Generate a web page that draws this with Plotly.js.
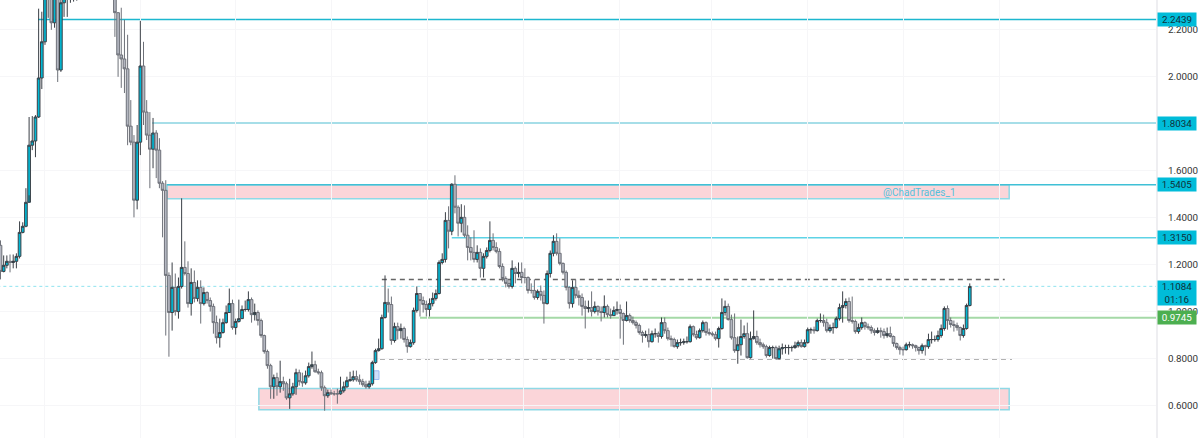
<!DOCTYPE html>
<html><head><meta charset="utf-8">
<script src="https://cdn.plot.ly/plotly-3.0.1.min.js"></script>
<style>html,body{margin:0;padding:0;background:#fff}#c{width:1200px;height:438px}</style>
</head><body><div id="c"></div>
<script>
const firstOpen = 1.283;
const closes = [
1.172,1.198,1.215,1.210,1.215,1.236,1.338,1.364,1.466,1.709,
1.727,1.829,1.995,2.149,2.349,2.413,2.230,2.349,2.029,2.315,
2.371,2.392,2.413,2.50,2.62,2.71,2.80,2.74,2.85,2.78,
2.66,2.72,2.60,2.52,2.46,2.50,2.273,2.093,2.076,2.034,
1.790,1.722,1.475,1.722,2.046,1.850,1.752,1.692,1.761,1.688,
1.547,1.517,1.155,.997,1.104,1.001,1.108,1.189,1.163,1.035,
1.125,1.057,1.104,1.035,1.082,1.048,1.023,.954,.890,.912,
.954,.997,1.035,.933,.959,.971,1.010,1.010,1.052,.988,
.997,.963,.899,.831,.771,.681,.720,.681,.703,.694,
.634,.651,.681,.741,.703,.698,.728,.767,.775,.745,
.741,.677,.643,.656,.651,.651,.651,.664,.681,.707,
.711,.724,.711,.703,.690,.681,.694,.784,.835,.843,
.976,1.040,1.031,.878,.937,.920,.929,.882,.852,.869,
1.006,1.078,1.048,1.031,1.010,1.035,1.057,1.078,1.210,1.223,
1.389,1.343,1.543,1.445,1.377,1.402,1.326,1.274,1.253,1.223,
1.253,1.185,1.236,1.261,1.304,1.274,1.257,1.193,1.142,1.121,
1.108,1.185,1.163,1.168,1.146,1.146,1.091,1.091,1.061,1.087,
1.070,1.035,1.163,1.249,1.300,1.249,1.206,1.168,1.104,1.035,
1.104,1.070,1.061,1.023,1.014,1.018,1.001,1.023,1.001,.997,
1.023,.988,.984,1.006,1.010,.993,.963,.984,.963,.954,
.942,.912,.899,.903,.873,.907,.907,.895,.954,.920,
.886,.882,.852,.869,.869,.873,.873,.937,.903,.890,
.920,.954,.912,.907,.903,.886,.929,.997,1.023,.967,
.890,.835,.860,.895,.907,.805,.886,.895,.869,.860,
.852,.814,.848,.848,.801,.843,.848,.848,.848,.848,
.856,.869,.852,.869,.924,.924,.920,.963,.963,.954,
.920,.933,.933,.971,1.018,1.027,1.044,.963,.959,.916,
.933,.954,.937,.933,.920,.912,.920,.916,.899,.907,
.895,.865,.848,.839,.839,.860,.860,.856,.848,.835,
.856,.852,.882,.882,.882,.899,.929,1.014,.963,.946,
.942,.933,.899,.929,1.027,1.108];
const highs = [
1.304,1.240,1.240,1.244,1.244,1.249,1.385,1.381,1.526,1.829,
1.833,1.837,2.290,2.277,2.413,2.499,2.435,2.413,2.371,2.349,
2.413,2.456,2.499,2.58,2.70,2.80,2.88,2.85,2.92,2.88,
2.76,2.80,2.70,2.60,2.55,2.58,2.56,2.273,2.294,2.243,
2.179,1.901,1.752,1.795,2.238,2.149,1.901,1.850,1.825,1.773,
1.739,1.556,1.560,1.168,1.210,1.163,1.146,1.483,1.300,1.215,
1.185,1.176,1.134,1.134,1.104,1.087,1.061,1.035,.984,.971,
.971,1.027,1.099,1.052,.971,1.052,1.027,1.048,1.087,1.061,
1.035,1.006,.971,.903,.839,.779,.733,.741,.792,.724,
.703,.715,.698,.758,.754,.741,.750,.784,.831,.792,
.758,.750,.686,.669,.669,.664,.673,.724,.703,.724,
.745,.750,.750,.733,.715,.707,.707,.792,.843,.886,
.988,1.155,1.099,1.065,.954,.954,.950,.937,.895,.882,
1.018,1.108,1.078,1.065,1.048,1.057,1.082,1.095,1.219,1.249,
1.424,1.449,1.547,1.581,1.453,1.458,1.453,1.368,1.317,1.347,
1.283,1.270,1.249,1.274,1.385,1.334,1.296,1.270,1.206,1.151,
1.138,1.219,1.193,1.210,1.210,1.185,1.151,1.121,1.138,1.095,
1.112,1.091,1.176,1.261,1.326,1.334,1.313,1.210,1.176,1.108,
1.134,1.138,1.091,1.078,1.048,1.048,1.087,1.044,1.027,1.023,
1.070,1.031,1.014,1.023,1.044,1.031,.997,1.044,.993,.980,
.963,.950,.920,.920,.929,.920,.929,.916,.976,.976,
.933,.899,.890,.882,.886,.886,.895,.946,.942,.920,
.929,.963,.959,.929,.916,.916,.937,1.057,1.048,1.035,
.988,.993,.895,.967,.942,.954,.916,1.006,.920,.886,
.869,.860,.856,.856,.856,.856,.865,.860,.860,.856,
.873,.878,.882,.882,.933,.933,.937,.971,.993,.988,
.971,.946,.954,.980,1.035,1.087,1.057,1.061,1.065,.967,
.950,.976,.959,.950,.942,.929,.933,.933,.929,.933,
.937,.899,.869,.856,.852,.869,.873,.865,.860,.852,
.865,.860,.907,.916,.899,.920,.946,1.023,1.027,.976,
.963,.954,.937,.946,1.035,1.121];
const lows = [
1.138,1.168,1.185,1.168,1.185,1.185,1.227,1.334,1.360,1.496,
1.688,1.658,1.825,1.948,2.136,2.251,2.200,2.209,1.978,2.021,
2.255,2.255,2.315,2.320,2.324,2.60,2.68,2.62,2.70,2.60,
2.55,2.60,2.48,2.42,2.40,2.38,2.170,2.000,1.953,1.931,
1.709,1.709,1.402,1.436,1.667,1.795,1.731,1.526,1.611,1.569,
1.526,1.317,.899,.809,.920,.984,.971,1.099,1.155,1.018,
.984,1.040,1.044,.950,1.027,1.035,1.001,.907,.865,.848,
.907,.950,.997,.924,.903,.954,.971,1.001,1.001,.954,
.963,.942,.890,.822,.758,.630,.630,.643,.656,.664,
.626,.587,.643,.647,.686,.681,.690,.720,.758,.741,
.733,.664,.579,.634,.647,.643,.609,.647,.656,.677,
.703,.703,.703,.690,.681,.673,.673,.686,.779,.831,
.839,.971,.997,.860,.869,.882,.886,.869,.826,.848,
.860,.997,.980,.997,.980,.980,1.023,1.048,1.074,1.202,
1.210,1.270,1.326,1.419,1.321,1.338,1.317,1.219,1.219,1.210,
1.210,1.146,1.146,1.227,1.253,1.261,1.249,1.185,1.129,1.104,
1.099,1.099,1.121,1.146,1.121,1.121,1.078,1.078,1.052,1.052,
1.048,.950,1.031,1.146,1.236,1.240,1.198,1.159,1.091,1.014,
1.018,1.057,1.027,.984,.929,.997,.980,.993,.984,.959,
.976,.976,.971,.984,.988,.886,.860,.959,.954,.946,
.929,.903,.869,.890,.848,.869,.890,.869,.886,.907,
.878,.852,.848,.843,.856,.860,.865,.869,.895,.882,
.886,.912,.899,.899,.895,.878,.848,.924,.984,.963,
.882,.826,.779,.814,.886,.801,.801,.882,.860,.848,
.843,.805,.809,.801,.797,.797,.818,.822,.818,.831,
.843,.848,.848,.848,.865,.907,.907,.916,.954,.937,
.912,.912,.907,.929,.963,.954,1.014,.954,.950,.907,
.907,.924,.924,.924,.907,.899,.907,.890,.886,.890,
.890,.852,.839,.818,.814,.835,.848,.843,.831,.818,
.822,.814,.843,.865,.873,.873,.890,.920,.924,.933,
.916,.920,.878,.890,.924,1.023];

const priceTicks = [0.6,0.8,1.0,1.2,1.4,1.6,2.0,2.2];
const timeGrid = [13.8,43.9,74.1,104.3,134.5,164.7,194.9,223.6,253.8,284,314.5];
const levelA = 2.2439, levelB = 1.8034, levelC = 1.5405, levelD = 1.3150, levelLast = 1.1084, levelE = 0.9745;
const zoneTopBottom = 1.4815, zoneLowTop = 0.674, zoneLowBottom = 0.583;
const dashHigh = 1.138, dashLow = 0.800;

const idx = closes.map((_,i)=>i);
const opens = closes.map((c,i)=> i===0 ? firstOpen : closes[i-1]);

const xEnd = 363.6;
const cyan = '#00bcd9';
function hline(x0,x1,y,color,width,dash){
  return {type:'line',xref:'x',yref:'y',x0:x0,x1:x1,y0:y,y1:y,layer:'below',line:{color:color,width:width,dash:dash||'solid'}};
}
const shapes = [
  {type:'rect',xref:'x',yref:'y',x0:52.4,x1:317.4,y0:zoneTopBottom,y1:levelC,layer:'below',fillcolor:'#fbd5d9',line:{color:'#8fd9e6',width:1.5}},
  {type:'rect',xref:'x',yref:'y',x0:81.3,x1:317.4,y0:zoneLowBottom,y1:zoneLowTop,layer:'below',fillcolor:'#fbd5d9',line:{color:'#8fd9e6',width:1.5}},
  {type:'rect',xref:'x',yref:'y',x0:117.5,x1:119.1,y0:0.712,y1:0.749,layer:'below',fillcolor:'#cfe0fb',line:{color:'#9dbcf5',width:1}},
  hline(11.8,xEnd,levelA,'#1cb7cf',1.5),
  hline(47.7,xEnd,levelB,'#4fbdd2',1.2),
  hline(52.4,xEnd,levelC,'#3fc0d6',1.5),
  hline(142,xEnd,levelD,'#5ed3e6',1.5),
  hline(-1,xEnd,levelLast,'#8fe3ef',1,'dot'),
  hline(132,xEnd,levelE,'#a5d9a7',2),
  hline(120,316,dashHigh,'#666',1.5,'5px,4px'),
  hline(119.4,318.3,dashLow,'#666',1.5,'5px,4px')
];
function tag(y,text,bg,fg){
  return {xref:'paper',yref:'y',x:1,xanchor:'left',xshift:1,y:y,yanchor:'middle',text:text,showarrow:false,
    bgcolor:bg,width:38,height:13,borderpad:0,align:'center',font:{family:'Roboto, sans-serif',size:9.8,color:fg}};
}
const annotations = [
  tag(levelA,'2.2439',cyan,'#10303a'),
  tag(levelB,'1.8034',cyan,'#10303a'),
  tag(levelC,'1.5405',cyan,'#10303a'),
  tag(levelD,'1.3150',cyan,'#10303a'),
  {xref:'paper',yref:'y',x:1,xanchor:'left',xshift:1,y:levelLast,yanchor:'top',yshift:6,text:'1.1084<br>01:16',showarrow:false,
    bgcolor:cyan,width:38,height:24,borderpad:0,align:'center',font:{family:'Roboto, sans-serif',size:9.8,color:'#10303a'}},
  tag(levelE,'0.9745','#4caf50','#ffffff'),
  {xref:'x',yref:'y',x:289.3,y:1.509,text:'@ChadTrades_1',showarrow:false,font:{family:'Roboto, sans-serif',size:10,color:'#55c1dc'}}
];
Plotly.newPlot('c',[{
  type:'candlestick',x:idx,open:opens,high:highs,low:lows,close:closes,
  increasing:{line:{color:'#3a3f46',width:1},fillcolor:'#00b8d4'},
  decreasing:{line:{color:'#6d7078',width:1},fillcolor:'#b4b7c1'},
  whiskerwidth:0,hoverinfo:'skip'
}],{
  width:1200,height:438,margin:{l:0,r:44,t:0,b:0,pad:0},
  paper_bgcolor:'#ffffff',plot_bgcolor:'#ffffff',showlegend:false,boxgap:0.16,boxgroupgap:0,
  xaxis:{type:'linear',range:[-0.157,xEnd],rangeslider:{visible:false},tickmode:'array',tickvals:timeGrid,showticklabels:false,
    ticks:'',showgrid:true,gridcolor:'#f6f6f8',gridwidth:1,zeroline:false,showline:false},
  yaxis:{type:'linear',range:[0.4631,2.3269],side:'right',tickmode:'array',tickvals:priceTicks,
    ticktext:priceTicks.map(v=>v.toFixed(4)),ticks:'',ticklabelstandoff:8,
    tickfont:{family:'Roboto, sans-serif',size:9.8,color:'#333'},showgrid:true,gridcolor:'#f6f6f8',gridwidth:1,
    zeroline:false,showline:true,linecolor:'#eeeef1',linewidth:2},
  shapes:shapes,annotations:annotations
},{displayModeBar:false,staticPlot:true});
</script></body></html>
